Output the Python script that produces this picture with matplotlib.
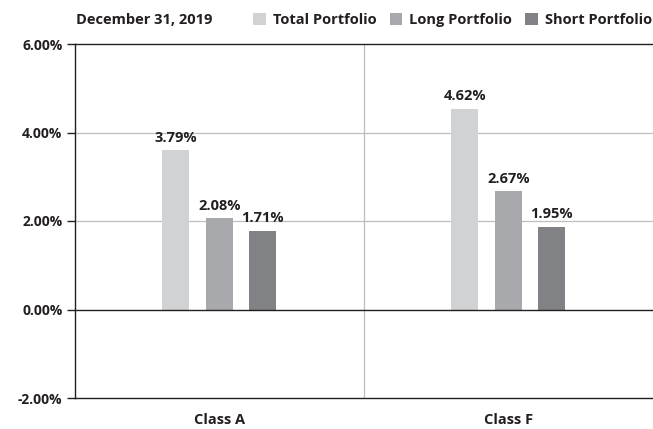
import matplotlib
matplotlib.use("Agg")
import matplotlib.pyplot as plt
from matplotlib.patches import Patch

plt.rcParams["font.family"] = ["Open Sans", "DejaVu Sans"]

# data
classes = ["Class A", "Class F"]
series = ["Total Portfolio", "Long Portfolio", "Short Portfolio"]
# bar heights as drawn in the picture (%)
total_bars = [3.60, 4.53]
long_bars = [2.06, 2.67]
short_bars = [1.78, 1.87]
# printed value labels
total_labels = ["3.79%", "4.62%"]
long_labels = ["2.08%", "2.67%"]
short_labels = ["1.71%", "1.95%"]
y_ticks = [-2, 0, 2, 4, 6]
y_ticklabels = ["-2.00%", "0.00%", "2.00%", "4.00%", "6.00%"]
title = "December 31, 2019"

colors = ["#d1d2d4", "#a7a9ac", "#808285"]
text_c = "#231f20"
fs = 10.5

fig = plt.figure(figsize=(6.53, 4.29), dpi=100)
ax = fig.add_axes([75 / 653, 31 / 429, 578 / 653, 354 / 429])

width = 0.093
offsets = [-0.152, 0.0, 0.149]
bars = [total_bars, long_bars, short_bars]
labels = [total_labels, long_labels, short_labels]

# grid / separator lines
for y in (2, 4):
    ax.axhline(y, color="#bcbec0", lw=0.9, zorder=1)
ax.axvline(0.5, color="#bcbec0", lw=0.9, zorder=1)
for y in (0, 6, -2):
    ax.axhline(y, color=text_c, lw=1.0, zorder=3, clip_on=False)

for vals, labs, off, col in zip(bars, labels, offsets, colors):
    xs = [i + off for i in range(len(classes))]
    ax.bar(xs, vals, width=width, color=col, zorder=2)
    for x, v, lab in zip(xs, vals, labs):
        ax.annotate(lab, (x, v), xytext=(0, 4), textcoords="offset points",
                    ha="center", va="bottom", fontsize=fs,
                    fontweight="bold", color=text_c)

ax.set_xlim(-0.5, 1.5)
ax.set_ylim(-2, 6)
ax.set_yticks(y_ticks)
ax.set_yticklabels(y_ticklabels, fontsize=10, fontweight="bold", color=text_c)
ax.tick_params(axis="y", length=6, width=1.0, color=text_c, pad=3)
ax.set_xticks(range(len(classes)))
ax.set_xticklabels(classes, fontsize=fs, fontweight="bold", color=text_c)
ax.tick_params(axis="x", length=0, pad=11)

for s in ("top", "right", "bottom"):
    ax.spines[s].set_visible(False)
ax.spines["left"].set_color(text_c)
ax.spines["left"].set_linewidth(1.0)

fig.text(76 / 653, 1 - 20 / 429, title, fontsize=fs, fontweight="bold",
         color=text_c, va="center", ha="left")

handles = [Patch(facecolor=c, edgecolor="none") for c in colors]
fig.legend(handles, series, loc="center right",
           bbox_to_anchor=(1.0, 1 - 20 / 429), ncol=3, frameon=False,
           prop={"size": fs, "weight": "bold"},
           handlelength=0.85, handleheight=0.85, handletextpad=0.5,
           columnspacing=0.9, borderaxespad=0.0, borderpad=0.05,
           labelcolor=text_c)

fig.savefig("out.png", dpi=100)
